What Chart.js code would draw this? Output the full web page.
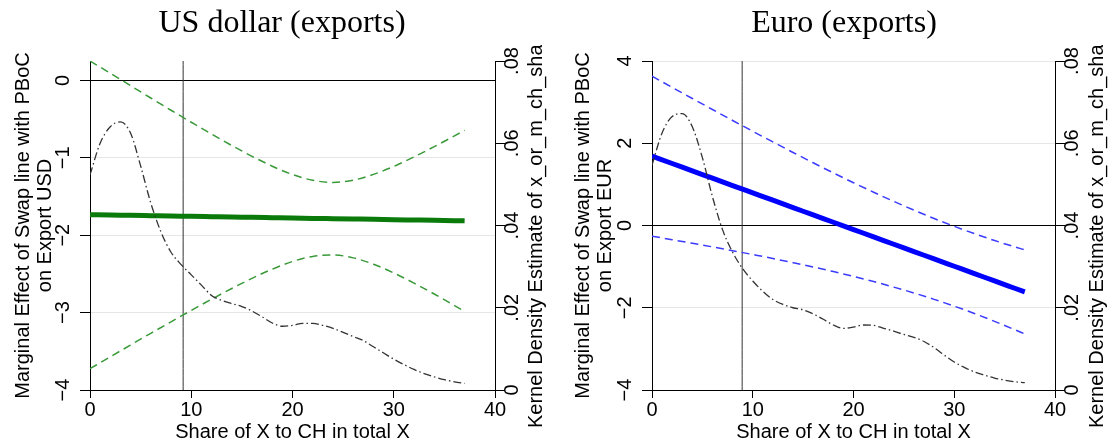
<!DOCTYPE html>
<html><head><meta charset="utf-8">
<script src="https://cdn.jsdelivr.net/npm/chart.js@4.4.0/dist/chart.umd.min.js"></script>
<style>
html,body{margin:0;padding:0;background:#fff;overflow:hidden;width:1109px;height:443px;position:relative;}
canvas{position:absolute;top:0;}
#c1{left:0;}
#c2{left:560px;}
</style></head><body>
<canvas id="c1" width="564" height="443"></canvas>
<canvas id="c2" width="568" height="443"></canvas>
<script>
// ---------- data ----------
const xTicks = [0, 10, 20, 30, 40];
const yTicksUSD = [-4, -3, -2, -1, 0];
const yTicksEUR = [-4, -2, 0, 2, 4];
const densTicks = [0, 0.02, 0.04, 0.06, 0.08];
const densTickLabels = ['0', '.02', '.04', '.06', '.08'];

const xsCI = [0,2,4,6,8,10,12,14,16,18,20,22,24,26,28,30,32,34,36,37];
const usdEffect = [-1.735,-1.739,-1.744,-1.748,-1.752,-1.757,-1.761,-1.765,-1.770,-1.774,-1.778,-1.783,-1.787,-1.791,-1.795,-1.800,-1.804,-1.808,-1.813,-1.815];
const usdUpper  = [0.25,0.093,-0.068,-0.228,-0.386,-0.541,-0.694,-0.841,-0.981,-1.109,-1.217,-1.291,-1.318,-1.289,-1.215,-1.112,-0.989,-0.856,-0.717,-0.645];
const usdLower  = [-3.725,-3.571,-3.419,-3.268,-3.119,-2.972,-2.828,-2.689,-2.558,-2.439,-2.340,-2.274,-2.256,-2.293,-2.375,-2.488,-2.619,-2.760,-2.910,-2.985];
const eurEffect = [1.685,1.507,1.328,1.150,0.971,0.793,0.615,0.436,0.258,0.079,-0.099,-0.277,-0.456,-0.634,-0.813,-0.991,-1.169,-1.348,-1.526,-1.615];
const eurUpper  = [3.630,3.359,3.088,2.820,2.554,2.291,2.032,1.776,1.525,1.279,1.040,0.809,0.586,0.373,0.170,-0.020,-0.198,-0.365,-0.519,-0.592];
const eurLower  = [-0.260,-0.345,-0.432,-0.520,-0.612,-0.706,-0.802,-0.904,-1.009,-1.121,-1.238,-1.363,-1.498,-1.641,-1.796,-1.962,-2.140,-2.331,-2.533,-2.638];

const xsDens = [0,1,2,3,4,5,6,7,8,9,10,11,12,13,14,15,16,17,18,19,20,21,22,23,24,25,26,27,28,29,30,31,32,33,34,35,36,37];
const densUSD = [0.0523,0.0600,0.0640,0.0652,0.0625,0.0545,0.0455,0.0385,0.0335,0.0305,0.0280,0.0255,0.0230,0.0218,0.0210,0.0203,0.0192,0.0178,0.0163,0.0155,0.0157,0.0162,0.0162,0.0157,0.0150,0.0140,0.0130,0.0120,0.0105,0.0090,0.0075,0.0062,0.0050,0.0040,0.0032,0.0025,0.0020,0.0016];
const densEUR = [0.0547,0.0625,0.0665,0.0672,0.0640,0.0565,0.0470,0.0390,0.0335,0.0295,0.0265,0.0240,0.0220,0.0208,0.0200,0.0195,0.0185,0.0172,0.0158,0.0150,0.0153,0.0158,0.0157,0.0150,0.0143,0.0135,0.0128,0.0118,0.0103,0.0085,0.0068,0.0055,0.0044,0.0036,0.0029,0.0024,0.0020,0.0018];

const vlineUSD = 9.2;
const vlineEUR = 8.95;

const titleUSD = 'US dollar (exports)';
const titleEUR = 'Euro (exports)';
const yTitleUSD = ['Marginal Effect of Swap line with PBoC', 'on Export USD'];
const yTitleEUR = ['Marginal Effect of Swap line with PBoC', 'on Export EUR'];
const xTitle = 'Share of X to CH in total X';
const y2Title = 'Kernel Density Estimate of x_or_m_ch_share';

// ---------- helpers ----------
const pts = (xs, ys) => xs.map((x, i) => ({x: x, y: ys[i]}));
const SANS = '"Liberation Sans", Arial, sans-serif';
const SERIF = '"Liberation Serif", "Times New Roman", serif';
const minus = v => (v < 0 ? '\u2212' + Math.abs(v) : String(v));

const rightTitlePlugin = {
  id: 'rightTitle',
  afterDraw(chart, args, opts) {
    const ctx = chart.ctx;
    const s = chart.scales.y2;
    ctx.save();
    ctx.beginPath();
    ctx.rect(0, opts.clipTop, chart.width, chart.height - opts.clipTop);
    ctx.clip();
    ctx.translate(s.left + opts.offset, opts.startY);
    ctx.rotate(-Math.PI / 2);
    ctx.font = '20px ' + SANS;
    ctx.fillStyle = '#000';
    ctx.textAlign = 'left';
    ctx.textBaseline = 'middle';
    ctx.fillText(opts.text, 0, 0);
    ctx.restore();
  }
};

function makePanel(id, p) {
  const W = p.width;
  const lineDS = (data, color, width, dash, order, axis) => ({
    data: data, borderColor: color, borderWidth: width, borderDash: dash || [],
    pointRadius: 0, fill: false, cubicInterpolationMode: 'monotone', order: order,
    yAxisID: axis || 'y'
  });
  new Chart(document.getElementById(id), {
    type: 'line',
    data: {
      datasets: [
        lineDS(pts(p.xsDens, p.dens), '#333333', 1.3, [8, 3, 1.5, 3], 1, 'y2'),
        lineDS(pts(p.xsCI, p.effect), p.mainColor, 5, null, 2),
        lineDS(pts(p.xsCI, p.upper), p.ciColor, 1.5, [8, 5], 3),
        lineDS(pts(p.xsCI, p.lower), p.ciColor, 1.5, [8, 5], 3),
        lineDS([{x: p.vline, y: p.yMin}, {x: p.vline, y: p.yMax}], '#333333', 1, null, 4)
      ]
    },
    options: {
      responsive: false,
      animation: false,
      devicePixelRatio: 1,
      layout: {padding: 0},
      plugins: {
        legend: {display: false},
        tooltip: {enabled: false},
        title: {
          display: true, text: p.title, color: '#000',
          font: {family: SERIF, size: 32, weight: 'normal', lineHeight: 1},
          padding: {top: 8, bottom: 21}
        },
        rightTitle: {text: y2Title, offset: p.y2TitleOffset, startY: 428, clipTop: 45}
      },
      scales: {
        x: {
          type: 'linear', min: 0, max: 40,
          afterBuildTicks: s => { s.ticks = xTicks.map(v => ({value: v})); },
          afterFit: s => { s.height = 53; },
          grid: {drawOnChartArea: false, drawTicks: true, tickLength: 8, tickColor: '#000'},
          border: {display: true, color: '#000', width: 1},
          ticks: {color: '#000', font: {family: SANS, size: 20, lineHeight: 1.2}, padding: 0, autoSkip: false, maxRotation: 0},
          title: {display: true, text: xTitle, color: '#000', font: {family: SANS, size: 20, lineHeight: 1}, padding: {top: 0, bottom: 1}}
        },
        y: {
          type: 'linear', position: 'left', min: p.yMin, max: p.yMax,
          afterBuildTicks: s => { s.ticks = p.yTicks.map(v => ({value: v})); },
          afterFit: s => { s.width = p.plotLeft; },
          grid: {
            drawOnChartArea: true, drawTicks: true, tickLength: 10, tickColor: '#000', lineWidth: 1,
            color: c => (c.tick && c.tick.value === 0 ? '#000000' : '#e6e6e6')
          },
          border: {display: true, color: '#000', width: 1},
          ticks: {
            color: '#000', font: {family: SANS, size: 20}, padding: 5, autoSkip: false,
            minRotation: 90, maxRotation: 90, crossAlign: 'center',
            callback: v => minus(v)
          },
          title: {display: true, text: p.yTitle, color: '#000', font: {family: SANS, size: 20, lineHeight: 1.1}, padding: {top: 12, bottom: 0}}
        },
        y2: {
          type: 'linear', position: 'right', min: 0, max: 0.08,
          afterBuildTicks: s => { s.ticks = densTicks.map(v => ({value: v})); },
          afterFit: s => { s.width = W - p.plotRight; },
          grid: {drawOnChartArea: false, drawTicks: true, tickLength: 10, tickColor: '#000'},
          border: {display: true, color: '#000', width: 1},
          ticks: {
            color: '#000', font: {family: SANS, size: 20}, padding: -6, autoSkip: false,
            minRotation: 90, maxRotation: 90, crossAlign: 'center',
            callback: (v, i) => densTickLabels[i]
          }
        }
      }
    },
    plugins: [rightTitlePlugin]
  });
}

makePanel('c1', {
  width: 564, plotLeft: 90, plotRight: 495, title: titleUSD, yTitle: yTitleUSD,
  yMin: -4, yMax: 0.25, yTicks: yTicksUSD, xsCI: xsCI, effect: usdEffect, upper: usdUpper, lower: usdLower,
  xsDens: xsDens, dens: densUSD, vline: vlineUSD, mainColor: '#0a7a0a', ciColor: '#3a9a3a', y2TitleOffset: 41.5
});
makePanel('c2', {
  width: 568, plotLeft: 92, plotRight: 495, title: titleEUR, yTitle: yTitleEUR,
  yMin: -4, yMax: 4, yTicks: yTicksEUR, xsCI: xsCI, effect: eurEffect, upper: eurUpper, lower: eurLower,
  xsDens: xsDens, dens: densEUR, vline: vlineEUR, mainColor: '#0000ff', ciColor: '#3b3bff', y2TitleOffset: 42.5
});
</script>
</body></html>
